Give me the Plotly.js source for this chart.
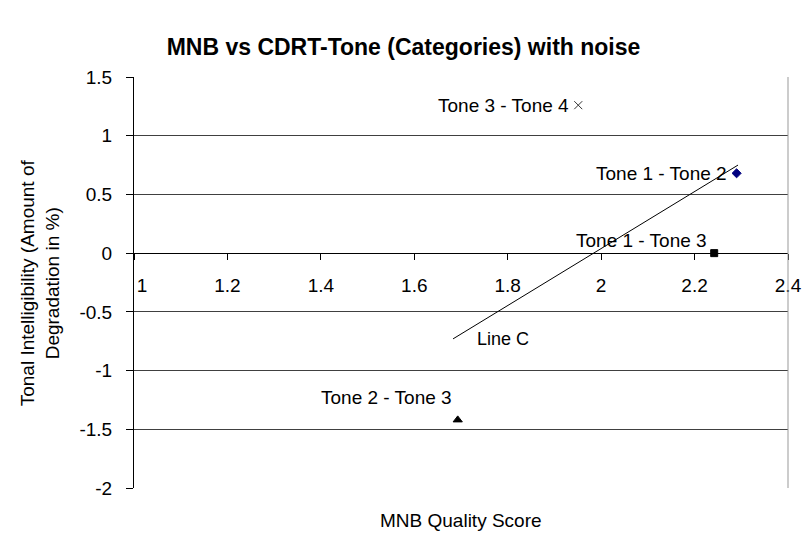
<!DOCTYPE html>
<html>
<head>
<meta charset="utf-8">
<script src="https://cdn.plot.ly/plotly-3.0.1.min.js"></script>
<style>html,body{margin:0;padding:0;background:#fff;}#chart{width:807px;height:542px;}</style>
</head>
<body>
<div id="chart"></div>
<script>
// Data
const pointNames = ["Tone 1 - Tone 2", "Tone 1 - Tone 3", "Tone 2 - Tone 3", "Tone 3 - Tone 4"];
const mnbScore = [2.29, 2.242, 1.693, 1.951];
const tonalDegradation = [0.68, 0.0, -1.42, 1.26];
const lineCX = [1.683, 2.293];
const lineCY = [-0.73, 0.75];
const xTicks = [1, 1.2, 1.4, 1.6, 1.8, 2, 2.2, 2.4];
const yTicks = [-2, -1.5, -1, -0.5, 0, 0.5, 1, 1.5];

const FONT = "Liberation Sans, Arial, sans-serif";
const markerSymbols = ["diamond", "square", "triangle-up", "x-thin-open"];
const markerColors = ["#000080", "#000000", "#000000", "#333333"];
const markerSizes = [7, 7, 8, 8];
const labelShift = [[-8, 0], [-5, 13], [-4, 22], [-7, 0]];

const traces = [];
// invisible helper so the crossing axis exists (drawn first, underneath)
traces.push({x: [1], y: [0], xaxis: "x", yaxis: "y2", mode: "markers",
  marker: {opacity: 0}, showlegend: false, hoverinfo: "skip", type: "scatter"});
for (let i = 0; i < pointNames.length; i++) {
  traces.push({
    x: [mnbScore[i]], y: [tonalDegradation[i]], type: "scatter", mode: "markers",
    name: pointNames[i], xaxis: "x", yaxis: "y",
    marker: {symbol: markerSymbols[i], color: markerColors[i], size: markerSizes[i],
             line: {color: markerColors[i], width: 1}},
    hoverinfo: "x+y+name", cliponaxis: false
  });
}
traces.push({
  x: lineCX, y: lineCY, type: "scatter", mode: "lines", name: "Line C",
  line: {color: "#000", width: 1}, xaxis: "x", yaxis: "y"
});

const annotations = pointNames.map((n, i) => ({
  x: mnbScore[i], y: tonalDegradation[i], xref: "x", yref: "y",
  text: n, showarrow: false, xanchor: "right", yanchor: "middle",
  xshift: labelShift[i][0], yshift: labelShift[i][1],
  font: {family: FONT, size: 19, color: "#000"}
}));
annotations.push({
  x: lineCX[0], y: lineCY[0], xref: "x", yref: "y", text: "Line C",
  showarrow: false, xanchor: "left", yanchor: "middle", xshift: 22, yshift: 0,
  font: {family: FONT, size: 18, color: "#000"}
});
annotations.push({
  x: 0.5, y: -0.08, xref: "paper", yref: "paper", text: "MNB Quality Score",
  showarrow: false, xanchor: "center", yanchor: "middle",
  font: {family: FONT, size: 19, color: "#000"}
});
annotations.push({
  x: -0.144, y: 0.5, xref: "paper", yref: "paper",
  text: "Tonal Intelligibility (Amount of<br>Degradation in %)",
  showarrow: false, textangle: -90, xanchor: "center", yanchor: "middle",
  font: {family: FONT, size: 19, color: "#000"}
});

const yMin = -2, yMax = 1.5;
const zeroFrac = (0 - yMin) / (yMax - yMin);
// first label sits just right of the y axis in the reference
const xTickText = xTicks.map((v, i) => i === 0 ? "\u00a0\u00a0\u00a0" + v : String(v));

const layout = {
  width: 807, height: 542,
  margin: {l: 134, r: 19, t: 77, b: 54},
  paper_bgcolor: "#fff", plot_bgcolor: "rgba(0,0,0,0)",
  showlegend: false,
  font: {family: FONT, size: 19, color: "#000"},
  title: {text: "<b>MNB vs CDRT-Tone (Categories) with noise</b>",
          xref: "container", x: 0.5, xanchor: "center",
          yref: "container", y: 1 - 47/542, yanchor: "middle",
          font: {family: FONT, size: 23, color: "#000"}},
  xaxis: {
    range: [1, 2.4], tickvals: xTicks, ticktext: xTickText,
    anchor: "y2", side: "bottom",
    showline: true, linecolor: "#000", linewidth: 1,
    ticks: "outside", ticklen: 6, tickcolor: "#000",
    showgrid: false, zeroline: false, ticklabelstandoff: 9,
    tickfont: {family: FONT, size: 19, color: "#000"}
  },
  yaxis: {
    range: [yMin, yMax], tickvals: yTicks, ticktext: yTicks.map(String),
    showline: true, linecolor: "#000", linewidth: 1,
    ticks: "outside", ticklen: 7, tickcolor: "#000",
    showgrid: true, gridcolor: "#404040", gridwidth: 1, zeroline: false,
    ticklabelstandoff: 10,
    tickfont: {family: FONT, size: 19, color: "#000"}
  },
  yaxis2: {domain: [zeroFrac, 1], range: [0, yMax], visible: false, fixedrange: true},
  shapes: [{type: "line", xref: "paper", yref: "paper", x0: 1, x1: 1, y0: 0, y1: 1,
            line: {color: "#999", width: 1}}],
  annotations: annotations
};

Plotly.newPlot("chart", traces, layout, {displayModeBar: false, staticPlot: true});
</script>
</body>
</html>
